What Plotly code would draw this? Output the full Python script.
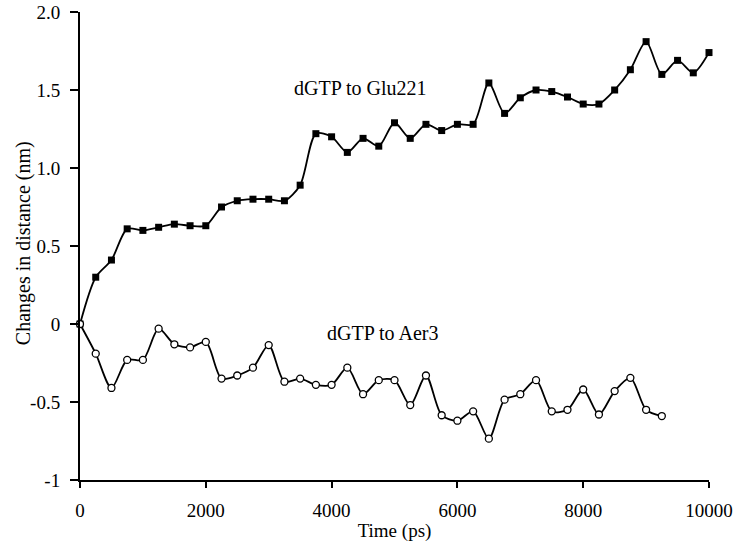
import plotly.graph_objects as go

time_glu = [0, 250, 500, 750, 1000, 1250, 1500, 1750, 2000, 2250, 2500, 2750, 3000,
            3250, 3500, 3750, 4000, 4250, 4500, 4750, 5000, 5250, 5500, 5750, 6000,
            6250, 6500, 6750, 7000, 7250, 7500, 7750, 8000, 8250, 8500, 8750, 9000,
            9250, 9500, 9750, 10000]
glu221 = [0.0, 0.30, 0.41, 0.61, 0.60, 0.62, 0.64, 0.63, 0.63, 0.75, 0.79, 0.80, 0.80,
          0.79, 0.89, 1.22, 1.20, 1.10, 1.19, 1.14, 1.29, 1.19, 1.28, 1.24, 1.28,
          1.28, 1.545, 1.35, 1.45, 1.50, 1.49, 1.455, 1.41, 1.41, 1.50, 1.63, 1.81,
          1.60, 1.69, 1.61, 1.74]

time_aer = [0, 250, 500, 750, 1000, 1250, 1500, 1750, 2000, 2250, 2500, 2750, 3000,
            3250, 3500, 3750, 4000, 4250, 4500, 4750, 5000, 5250, 5500, 5750, 6000,
            6250, 6500, 6750, 7000, 7250, 7500, 7750, 8000, 8250, 8500, 8750, 9000,
            9250]
aer3 = [0.0, -0.19, -0.41, -0.23, -0.23, -0.03, -0.13, -0.15, -0.115, -0.35, -0.33,
        -0.28, -0.135, -0.37, -0.35, -0.39, -0.39, -0.28, -0.45, -0.36, -0.36, -0.52,
        -0.33, -0.585, -0.62, -0.56, -0.735, -0.485, -0.45, -0.36, -0.56, -0.55,
        -0.42, -0.58, -0.43, -0.345, -0.55, -0.59]

x_ticks = [0, 2000, 4000, 6000, 8000, 10000]
x_tick_text = ["0", "2000", "4000", "6000", "8000", "10000"]
y_ticks = [-1, -0.5, 0, 0.5, 1.0, 1.5, 2.0]
y_tick_text = ["-1", "-0.5", "0", "0.5", "1.0", "1.5", "2.0"]

font = "Liberation Serif, Times New Roman, serif"

fig = go.Figure()
fig.add_trace(go.Scatter(
    x=time_glu, y=glu221, mode="lines+markers",
    line=dict(color="black", width=1.8, shape="spline", smoothing=0.8),
    marker=dict(symbol="square", size=7, color="black"),
    showlegend=False, cliponaxis=False))
fig.add_trace(go.Scatter(
    x=time_aer, y=aer3, mode="lines+markers",
    line=dict(color="black", width=1.8, shape="spline", smoothing=0.8),
    marker=dict(symbol="circle", size=7, color="white", line=dict(color="black", width=1.3)),
    showlegend=False, cliponaxis=False))

fig.add_annotation(x=4460, y=1.51, text="dGTP to Glu221", showarrow=False,
                   font=dict(family=font, size=20, color="black"))
fig.add_annotation(x=4810, y=-0.06, text="dGTP to Aer3", showarrow=False,
                   font=dict(family=font, size=20, color="black"))
# y-axis title placed as rotated text
fig.add_annotation(xref="paper", yref="paper", x=-0.0906, y=0.506,
                   xanchor="center", yanchor="middle",
                   text="Changes in distance (nm)", textangle=-90, showarrow=False,
                   font=dict(family=font, size=20, color="black"))

fig.update_layout(
    width=733, height=548,
    margin=dict(l=80, r=24, t=12, b=68),
    paper_bgcolor="white", plot_bgcolor="white",
    font=dict(family=font, size=19, color="black"),
    xaxis=dict(range=[0, 10000], tickvals=x_ticks, ticktext=x_tick_text,
               automargin=False,
               showgrid=False, zeroline=False,
               showline=True, linecolor="black", linewidth=2,
               ticks="outside", ticklen=6, tickwidth=2, tickcolor="black",
               ticklabelstandoff=6,
               tickfont=dict(family=font, size=19),
               title=dict(text="Time (ps)", standoff=4, font=dict(family=font, size=19))),
    yaxis=dict(range=[-1, 2], tickvals=y_ticks, ticktext=y_tick_text, showgrid=False,
               automargin=False,
               zeroline=False, showline=True, linecolor="black", linewidth=2,
               ticks="outside", ticklen=8, tickwidth=2, tickcolor="black",
               ticklabelstandoff=6,
               tickfont=dict(family=font, size=19)),
)

fig.write_html("out.html")
